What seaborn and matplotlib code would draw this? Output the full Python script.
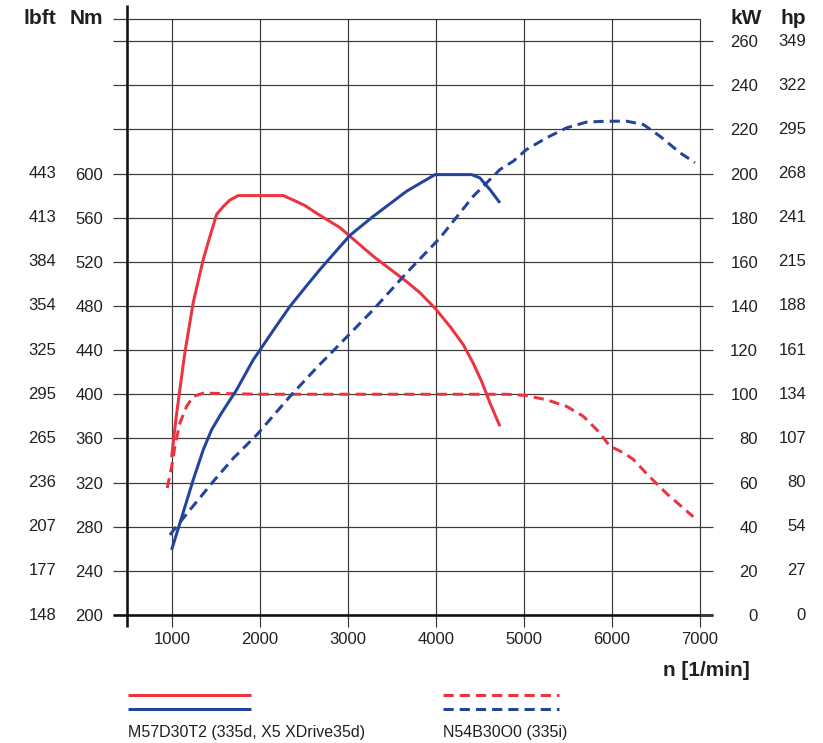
import numpy as np
import pandas as pd
import matplotlib
matplotlib.use("Agg")
import matplotlib.pyplot as plt
from matplotlib.lines import Line2D
import seaborn as sns

# ---------------- data ----------------
# M57D30T2 (335d) torque [Nm]
d_torque_rpm = [997, 1015, 1050, 1085, 1148, 1242, 1356, 1432, 1508, 1583, 1659,
                1754, 2265, 2379, 2511, 2644, 2909, 3288, 3667, 3818, 3989, 4159, 4310,
                4424, 4519, 4614, 4727]
d_torque_nm = [343, 356, 380, 401, 438, 483, 522, 543, 563, 570, 576,
               580, 580, 576, 571, 564, 551, 525, 502, 492, 478, 461.5, 445,
               428, 411.6, 392, 371]
# M57D30T2 (335d) power [kW]
d_power_rpm = [997, 1091, 1242, 1356, 1451, 1564, 1735, 1924, 2000, 2170, 2341, 2511, 2682,
               3023, 3288, 3667, 3989, 4406, 4500, 4614, 4727]
d_power_kw = [29.5, 41.6, 61.2, 74.8, 83.9, 91.5, 102, 115.6, 120, 130, 139.8, 148.2, 156.5,
              172, 180.6, 192, 199.5, 199.5, 198, 192.7, 186.7]
# N54B30O0 (335i) torque [Nm]
i_torque_rpm = [947, 997, 1034, 1091, 1167, 1242, 1356, 2000, 3000, 4000, 4500,
                4800, 5011, 5258, 5485, 5674, 5826, 5977, 6129, 6242, 6394, 6621, 6924]
i_torque_nm = [315, 334.5, 352.6, 373.9, 389, 398, 401, 400, 400, 400, 400,
               400, 399, 395, 389, 380, 368, 353, 347, 341, 328, 310, 289]
# N54B30O0 (335i) power [kW]
i_power_rpm = [977, 1205, 1470, 1697, 1962, 2341, 2644, 3000, 3288, 3667, 4045, 4424,
               4727, 4879, 5030, 5258, 5485, 5712, 5939, 6167, 6356, 6545, 6773, 6943]
i_power_kw = [36.3, 47.6, 60.5, 71, 81.5, 99, 112, 126.5, 138.3, 155, 170.8, 189.7,
              201.8, 205.6, 210.9, 216.2, 220.7, 223.3, 223.7, 223.7, 222.2, 216.9, 209.4, 204.9]

nm_ticks = list(range(200, 721, 40))
nm_labels = ["200", "240", "280", "320", "360", "400", "440", "480", "520", "560", "600", "", "", ""]
lbft_labels = ["148", "177", "207", "236", "265", "295", "325", "354", "384", "413", "443"]
kw_ticks = list(range(0, 261, 20))
hp_labels = ["0", "27", "54", "80", "107", "134", "161", "188", "215", "241", "268", "295", "322", "349"]
rpm_ticks = [1000, 2000, 3000, 4000, 5000, 6000, 7000]

legend_d = "M57D30T2 (335d, X5 XDrive35d)"
legend_i = "N54B30O0 (335i)"

RED = "#EC3340"
BLUE = "#24449B"
GRID = "#3a3a3a"
TXT = "#231f20"

# ---------------- figure ----------------
sns.set_theme(style="white")
plt.rcParams["font.family"] = ["Liberation Sans", "DejaVu Sans"]
plt.rcParams["lines.solid_capstyle"] = "butt"

fig = plt.figure(figsize=(8.23, 7.43), dpi=100)
W, H = 823, 743
L, R, B, T = 127, 700, 615, 19
ax = fig.add_axes([L / W, 1 - B / H, (R - L) / W, (B - T) / H])
ax2 = ax.twinx()

ax.set_xlim(490, 7000)
ax.set_ylim(200, 740)
ax2.set_ylim(0, 270)

px = 0.72  # points per pixel
lw = 3.0 * px
dash = (0, (3.4, 2.0))

df_dt = pd.DataFrame({"rpm": d_torque_rpm, "val": d_torque_nm})
df_it = pd.DataFrame({"rpm": i_torque_rpm, "val": i_torque_nm})
df_dp = pd.DataFrame({"rpm": d_power_rpm, "val": d_power_kw})
df_ip = pd.DataFrame({"rpm": i_power_rpm, "val": i_power_kw})

sns.lineplot(data=df_dt, x="rpm", y="val", ax=ax, sort=False, estimator=None,
             color=RED, linewidth=lw, zorder=5)
sns.lineplot(data=df_it, x="rpm", y="val", ax=ax, sort=False, estimator=None,
             color=RED, linewidth=lw, linestyle=dash, zorder=5)
sns.lineplot(data=df_dp, x="rpm", y="val", ax=ax2, sort=False, estimator=None,
             color=BLUE, linewidth=lw, zorder=5)
sns.lineplot(data=df_ip, x="rpm", y="val", ax=ax2, sort=False, estimator=None,
             color=BLUE, linewidth=lw, linestyle=dash, zorder=5)

ax.set_xlabel("")
ax.set_ylabel("")
ax2.set_ylabel("")

# grid
for yv in nm_ticks + [740]:
    ax.axhline(yv, color=GRID, lw=1.0 * px * 1.2, zorder=1, clip_on=False)
for xv in rpm_ticks:
    ax.axvline(xv, color=GRID, lw=1.0 * px * 1.2, zorder=1, clip_on=False)

for sp in ["left", "bottom", "right", "top"]:
    ax.spines[sp].set_visible(False)
    ax2.spines[sp].set_visible(False)

# ticks
ax.set_yticks(nm_ticks + [740])
ax.set_yticklabels(nm_labels + [""])
ax.tick_params(axis="y", which="both", direction="out", length=14 * px, width=1.2 * px,
               color=GRID, pad=10 * px, labelsize=12, labelcolor=TXT, left=True)
ax.set_xticks(rpm_ticks)
ax.set_xticklabels([str(v) for v in rpm_ticks])
ax.tick_params(axis="x", direction="out", length=12 * px, width=1.2 * px,
               color=GRID, pad=5 * px, labelsize=12, labelcolor=TXT, bottom=True)

ax2.set_yticks(kw_ticks)
ax2.set_yticklabels([str(v) for v in kw_ticks])
ax2.tick_params(axis="y", direction="out", length=13 * px, width=1.2 * px,
                color=GRID, pad=45 * px, labelsize=12, labelcolor=TXT, right=True)
for lab in ax2.get_yticklabels():
    lab.set_horizontalalignment("right")

# left lbft labels and right hp labels
tl = ax.get_yaxis_transform()
for v, s in zip(nm_ticks, lbft_labels):
    ax.text((56 - L) / (R - L), v, s, transform=tl, ha="right", va="center",
            fontsize=12, color=TXT, clip_on=False)
tr = ax2.get_yaxis_transform()
for v, s in zip(kw_ticks, hp_labels):
    ax2.text((806 - L) / (R - L), v, s, transform=tr, ha="right", va="center",
             fontsize=12, color=TXT, clip_on=False)

# thick axis lines
ta = ax.transAxes
ax.add_line(Line2D([0, 0], [1 + 14 / (B - T), -12 / (B - T)], transform=ta,
                   color="#111111", lw=2.6 * px, clip_on=False, zorder=6))
ax.add_line(Line2D([-14 / (R - L), 1 + 13 / (R - L)], [0, 0], transform=ta,
                   color="#111111", lw=2.6 * px, clip_on=False, zorder=6))

# headers
fig.text(56 / W, 1 - 19 / H, "lbft", ha="right", va="center", fontsize=15,
         fontweight="bold", color=TXT)
fig.text(103 / W, 1 - 19 / H, "Nm", ha="right", va="center", fontsize=15,
         fontweight="bold", color=TXT)
fig.text(762 / W, 1 - 19 / H, "kW", ha="right", va="center", fontsize=15,
         fontweight="bold", color=TXT)
fig.text(806 / W, 1 - 19 / H, "hp", ha="right", va="center", fontsize=15,
         fontweight="bold", color=TXT)
fig.text(750 / W, 1 - 670 / H, "n [1/min]", ha="right", va="center", fontsize=15,
         fontweight="bold", color=TXT)

# legend
ft = fig.transFigure
fig.add_artist(Line2D([128 / W, 251 / W], [1 - 695 / H] * 2, transform=ft, color=RED, lw=lw))
fig.add_artist(Line2D([128 / W, 251 / W], [1 - 709 / H] * 2, transform=ft, color=BLUE, lw=lw))
fig.add_artist(Line2D([443 / W, 559 / W], [1 - 695 / H] * 2, transform=ft, color=RED, lw=lw,
                      linestyle=dash))
fig.add_artist(Line2D([443 / W, 559 / W], [1 - 709 / H] * 2, transform=ft, color=BLUE, lw=lw,
                      linestyle=dash))
fig.text(128 / W, 1 - 733 / H, legend_d, ha="left", va="center", fontsize=11.5, color=TXT)
fig.text(443 / W, 1 - 733 / H, legend_i, ha="left", va="center", fontsize=11.5, color=TXT)

fig.savefig("out.png", dpi=100)
